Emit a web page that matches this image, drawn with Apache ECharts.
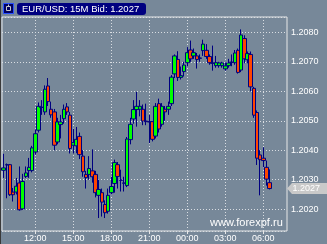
<!DOCTYPE html>
<html><head><meta charset="utf-8">
<script src="https://cdn.jsdelivr.net/npm/echarts@6/dist/echarts.min.js"></script>
<style>html,body{margin:0;padding:0;background:#778899;}#c{width:327px;height:244px;}</style>
</head><body><div id="c"></div>
<script>
// ---- data (EUR/USD 15M bars) ----
const symbol = 'EUR/USD';
const timeframe = '15M';
const watermark = 'www.forexpf.ru';
const firstBar = '09:30';
const slotCount = 90; // bars + empty right margin
const xTickLabels = ['12:00','15:00','18:00','21:00','00:00','03:00','06:00'];
const yTickLabels = [1.2020,1.2030,1.2040,1.2050,1.2060,1.2070,1.2080];

const opens = [1.20332,1.20350,1.20351,1.20258,1.20258,1.20289,1.20201,1.20311,1.20331,1.20331,
1.20394,1.20468,1.20545,1.20530,1.20618,1.20539,1.20530,1.20428,1.20487,1.20507,
1.20547,1.20519,1.20417,1.20415,1.20447,1.20380,1.20318,1.20318,1.20330,1.20318,
1.20247,1.20256,1.20216,1.20193,1.20256,1.20287,1.20351,1.20299,1.20288,1.20280,
1.20436,1.20506,1.20538,1.20539,1.20539,1.20499,1.20497,1.20497,1.20448,1.20558,
1.20488,1.20539,1.20539,1.20558,1.20659,1.20708,1.20647,1.20667,1.20697,1.20740,
1.20720,1.20720,1.20712,1.20738,1.20739,1.20718,1.20696,1.20687,1.20687,1.20687,
1.20676,1.20687,1.20698,1.20697,1.20739,1.20672,1.20779,1.20707,1.20725,1.20610,
1.20528,1.20384,1.20373,1.20342,1.20290];
const highs = [1.20388,1.20355,1.20353,1.20272,1.20306,1.20345,1.20320,1.20345,1.20374,1.20415,
1.20470,1.20562,1.20570,1.20620,1.20645,1.20565,1.20540,1.20510,1.20520,1.20555,
1.20560,1.20530,1.20473,1.20479,1.20460,1.20400,1.20330,1.20380,1.20403,1.20330,
1.20300,1.20270,1.20230,1.20270,1.20310,1.20368,1.20360,1.20334,1.20310,1.20445,
1.20510,1.20570,1.20598,1.20570,1.20555,1.20558,1.20520,1.20499,1.20560,1.20575,
1.20560,1.20550,1.20565,1.20655,1.20725,1.20736,1.20684,1.20700,1.20750,1.20772,
1.20745,1.20730,1.20725,1.20775,1.20760,1.20725,1.20755,1.20720,1.20700,1.20700,
1.20698,1.20710,1.20725,1.20740,1.20745,1.20810,1.20790,1.20735,1.20735,1.20615,
1.20535,1.20400,1.20410,1.20365,1.20335];
const lows = [1.20306,1.20237,1.20245,1.20226,1.20250,1.20195,1.20198,1.20306,1.20306,1.20325,
1.20385,1.20460,1.20520,1.20520,1.20550,1.20510,1.20400,1.20420,1.20440,1.20490,
1.20520,1.20389,1.20389,1.20390,1.20370,1.20310,1.20270,1.20300,1.20290,1.20240,
1.20170,1.20175,1.20170,1.20185,1.20250,1.20256,1.20270,1.20260,1.20260,1.20275,
1.20420,1.20490,1.20480,1.20515,1.20485,1.20485,1.20424,1.20430,1.20440,1.20460,
1.20480,1.20500,1.20520,1.20550,1.20645,1.20635,1.20640,1.20650,1.20685,1.20700,
1.20710,1.20677,1.20700,1.20720,1.20710,1.20690,1.20670,1.20680,1.20680,1.20680,
1.20670,1.20680,1.20685,1.20690,1.20660,1.20665,1.20695,1.20695,1.20600,1.20510,
1.20350,1.20247,1.20342,1.20280,1.20267];
const closes = [1.20340,1.20351,1.20249,1.20249,1.20278,1.20198,1.20294,1.20323,1.20342,1.20408,
1.20456,1.20549,1.20546,1.20607,1.20565,1.20520,1.20417,1.20496,1.20496,1.20539,
1.20530,1.20406,1.20426,1.20437,1.20385,1.20327,1.20307,1.20338,1.20310,1.20256,
1.20267,1.20224,1.20188,1.20247,1.20277,1.20358,1.20311,1.20298,1.20289,1.20438,
1.20488,1.20538,1.20549,1.20549,1.20499,1.20497,1.20496,1.20437,1.20549,1.20472,
1.20549,1.20530,1.20549,1.20648,1.20720,1.20647,1.20653,1.20689,1.20731,1.20710,
1.20731,1.20708,1.20713,1.20760,1.20718,1.20697,1.20695,1.20697,1.20696,1.20696,
1.20686,1.20696,1.20699,1.20730,1.20664,1.20791,1.20710,1.20728,1.20615,1.20519,
1.20373,1.20368,1.20365,1.20302,1.20270];

// ---- build ----
const times = [];
{
  let [h, m] = firstBar.split(':').map(Number);
  let t = h * 60 + m;
  for (let i = 0; i < slotCount; i++) {
    const mm = ((t + i * 15) % 1440 + 1440) % 1440;
    times.push(String(Math.floor(mm / 60)).padStart(2, '0') + ':' + String(mm % 60).padStart(2, '0'));
  }
}
const ohlc = opens.map((o, i) => [o, closes[i], lows[i], highs[i]]);
const lastClose = closes[closes.length - 1];
const showTime = (i, v) => xTickLabels.indexOf(v) >= 0;
const FONT = 'Liberation Sans';
const dotted = { color: '#d9dde2', width: 1, type: [1, 2] };

const chart = echarts.init(document.getElementById('c'), null, { renderer: 'canvas' });
chart.setOption({
  backgroundColor: '#778899',
  animation: false,
  grid: { left: 2, top: 17, right: 40, bottom: 13, show: true, borderColor: '#e8e8e8', borderWidth: 1, backgroundColor: 'transparent' },
  xAxis: {
    type: 'category', data: times, boundaryGap: true,
    axisLine: { show: false },
    axisTick: { show: true, alignWithLabel: true, interval: showTime, length: 3, lineStyle: { color: '#e8e8e8' } },
    axisLabel: { interval: showTime, color: '#ffffff', fontSize: 9, fontFamily: FONT, margin: 3 },
    splitLine: { show: true, alignWithLabel: true, interval: showTime, lineStyle: dotted }
  },
  yAxis: {
    type: 'value', position: 'right', min: 1.20126, max: 1.20852, splitNumber: 5,
    axisLine: { show: false }, axisTick: { show: false },
    axisLabel: {
      color: '#ffffff', fontSize: 9, fontFamily: FONT, margin: 4, showMinLabel: false, showMaxLabel: false,
      formatter: v => { const t = yTickLabels.find(t => Math.abs(t - v) < 1e-7); return t ? t.toFixed(4) : ''; }
    },
    splitLine: { show: true, lineStyle: dotted }
  },
  series: [{
    type: 'candlestick', data: ohlc, barWidth: 4, barMaxWidth: 4, barMinWidth: 4,
    itemStyle: { color: '#00ff00', color0: '#ff4500', borderColor: '#000080', borderColor0: '#000080', borderColorDoji: '#000080', borderWidth: 1 }
  }]
});

const yLast = chart.convertToPixel({ yAxisIndex: 0 }, lastClose);
const W = 327;
chart.setOption({
  graphic: [
    { type: 'line', shape: { x1: 0.5, y1: 0, x2: 0.5, y2: 244 }, style: { stroke: '#3a3a3a', lineWidth: 1 } },
    { type: 'rect', shape: { x: 3.5, y: 3.5, width: 10, height: 10 }, style: { fill: '#000060', stroke: '#2a50ff', lineWidth: 1 } },
    { type: 'rect', shape: { x: 6.5, y: 6.5, width: 4, height: 4 }, style: { fill: 'none', stroke: '#c8c8c8', lineWidth: 1 } },
    { type: 'line', shape: { x1: 8.5, y1: 4.5, x2: 8.5, y2: 6.5 }, style: { stroke: '#c8c8c8', lineWidth: 1 } },
    { type: 'rect', shape: { x: 17, y: 3, width: 129, height: 12, r: 3 }, style: { fill: '#000080' } },
    { type: 'text', x: 22, y: 9.5, style: { text: symbol + ': ' + timeframe + ' Bid: ' + lastClose.toFixed(4), fill: '#ffffff', font: '9.5px "Liberation Sans"', verticalAlign: 'middle' } },
    { type: 'text', x: 210, y: 222.5, style: { text: watermark, fill: '#ffffff', font: '11px "Liberation Sans"', verticalAlign: 'middle' } },
    { type: 'polygon', shape: { points: [[287, yLast], [292, yLast - 5.5], [W, yLast - 5.5], [W, yLast + 5.5], [292, yLast + 5.5]] }, style: { fill: '#c9c9c9' } },
    { type: 'text', x: 292.5, y: yLast, style: { text: lastClose.toFixed(4), fill: '#ffffff', font: '9px "Liberation Sans"', verticalAlign: 'middle' } }
  ]
});
</script></body></html>
